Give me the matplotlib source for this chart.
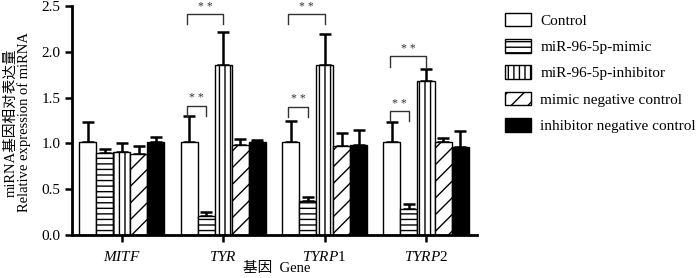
import matplotlib
matplotlib.use("Agg")
import matplotlib.pyplot as plt
from matplotlib.patches import Patch
import numpy as np

plt.rcParams["font.family"] = ["Liberation Serif", "Noto Sans CJK SC"]
plt.rcParams["mathtext.fontset"] = "custom"
plt.rcParams["mathtext.rm"] = "Liberation Serif"
plt.rcParams["mathtext.it"] = "Liberation Serif:italic"
plt.rcParams["hatch.linewidth"] = 1.0

# data
genes = [r"$\mathit{MITF}$", r"$\mathit{TYR}$", r"$\mathit{TYRP}$1", r"$\mathit{TYRP}$2"]
groups = ["Control", "miR-96-5p-mimic", "miR-96-5p-inhibitor",
          "mimic negative control", "inhibitor negative control"]
control = [1.02, 1.02, 1.02, 1.02]
mimic = [0.89, 0.21, 0.37, 0.28]
inhibitor = [0.91, 1.86, 1.86, 1.68]
mimic_nc = [0.88, 0.98, 0.97, 1.01]
inhibitor_nc = [1.02, 1.01, 0.98, 0.96]
control_err = [0.21, 0.28, 0.23, 0.21]
mimic_err = [0.05, 0.04, 0.04, 0.06]
inhibitor_err = [0.09, 0.36, 0.33, 0.13]
mimic_nc_err = [0.09, 0.07, 0.14, 0.05]
inhibitor_nc_err = [0.05, 0.03, 0.17, 0.18]

# significance brackets: (gene index, bar a, bar b, height)
sig_pairs = [(1, 0, 2, 2.41), (1, 0, 1, 1.41),
             (2, 0, 2, 2.41), (2, 0, 1, 1.40),
             (3, 0, 2, 1.95), (3, 0, 1, 1.35)]

values = [control, mimic, inhibitor, mimic_nc, inhibitor_nc]
errors = [control_err, mimic_err, inhibitor_err, mimic_nc_err, inhibitor_nc_err]
hatches = ["", "---", "|||", "//", ""]
faces = ["white", "white", "white", "white", "black"]

fig = plt.figure(figsize=(7, 2.78), dpi=100)
ax = fig.add_axes([0.103, 0.155, 0.578, 0.823])

x = np.arange(len(genes))
w = 0.168
for i in range(5):
    pos = x + (i - 2) * w
    ax.bar(pos, values[i], w, color=faces[i], edgecolor="black",
           linewidth=1.0, hatch=hatches[i], zorder=2)
    ax.errorbar(pos, values[i], yerr=[np.zeros(len(genes)), errors[i]],
                fmt="none", ecolor="black", elinewidth=1.8, capsize=4,
                capthick=1.8, zorder=1)

for g, a, b, h in sig_pairs:
    xa = x[g] + (a - 2) * w - 0.02
    xb = x[g] + (b - 2) * w
    ax.plot([xa, xa, xb, xb], [h - 0.11, h, h, h - 0.11],
            color="#333333", linewidth=1.0)
    ax.text((xa + xb) / 2, h + 0.02, "* *", ha="center", va="bottom",
            fontsize=8.5, color="#333333")

ax.set_xlim(-0.49, 3.5)
ax.set_ylim(0, 2.5)
ax.set_yticks([0, 0.5, 1.0, 1.5, 2.0, 2.5])
ax.set_yticklabels(["0.0", "0.5", "1.0", "1.5", "2.0", "2.5"])
ax.set_xticks(x)
ax.set_xticklabels(genes)
ax.tick_params(axis="both", labelsize=11, width=1.8, length=5, direction="out")
ax.tick_params(axis="x", pad=6)
for s in ["top", "right"]:
    ax.spines[s].set_visible(False)
for s in ["left", "bottom"]:
    ax.spines[s].set_linewidth(2)

fig.text(0.015, 0.56, "miRNA基因相对表达量", rotation=90,
         ha="center", va="center", fontsize=10.5)
fig.text(0.035, 0.56, "Relative expression of miRNA", rotation=90,
         ha="center", va="center", fontsize=10.5)
fig.text(0.395, 0.035, "基因  Gene", ha="center", va="center", fontsize=10.5)

handles = [Patch(facecolor=faces[i], edgecolor="black", hatch=hatches[i],
                 linewidth=1.0) for i in range(5)]
fig.legend(handles, groups, loc="upper left", bbox_to_anchor=(0.721, 0.955),
           frameon=False, fontsize=11, handlelength=1.7, handleheight=1.0,
           labelspacing=0.74, handletextpad=0.62, borderaxespad=0,
           borderpad=0)

fig.savefig("out.png", dpi=100)
